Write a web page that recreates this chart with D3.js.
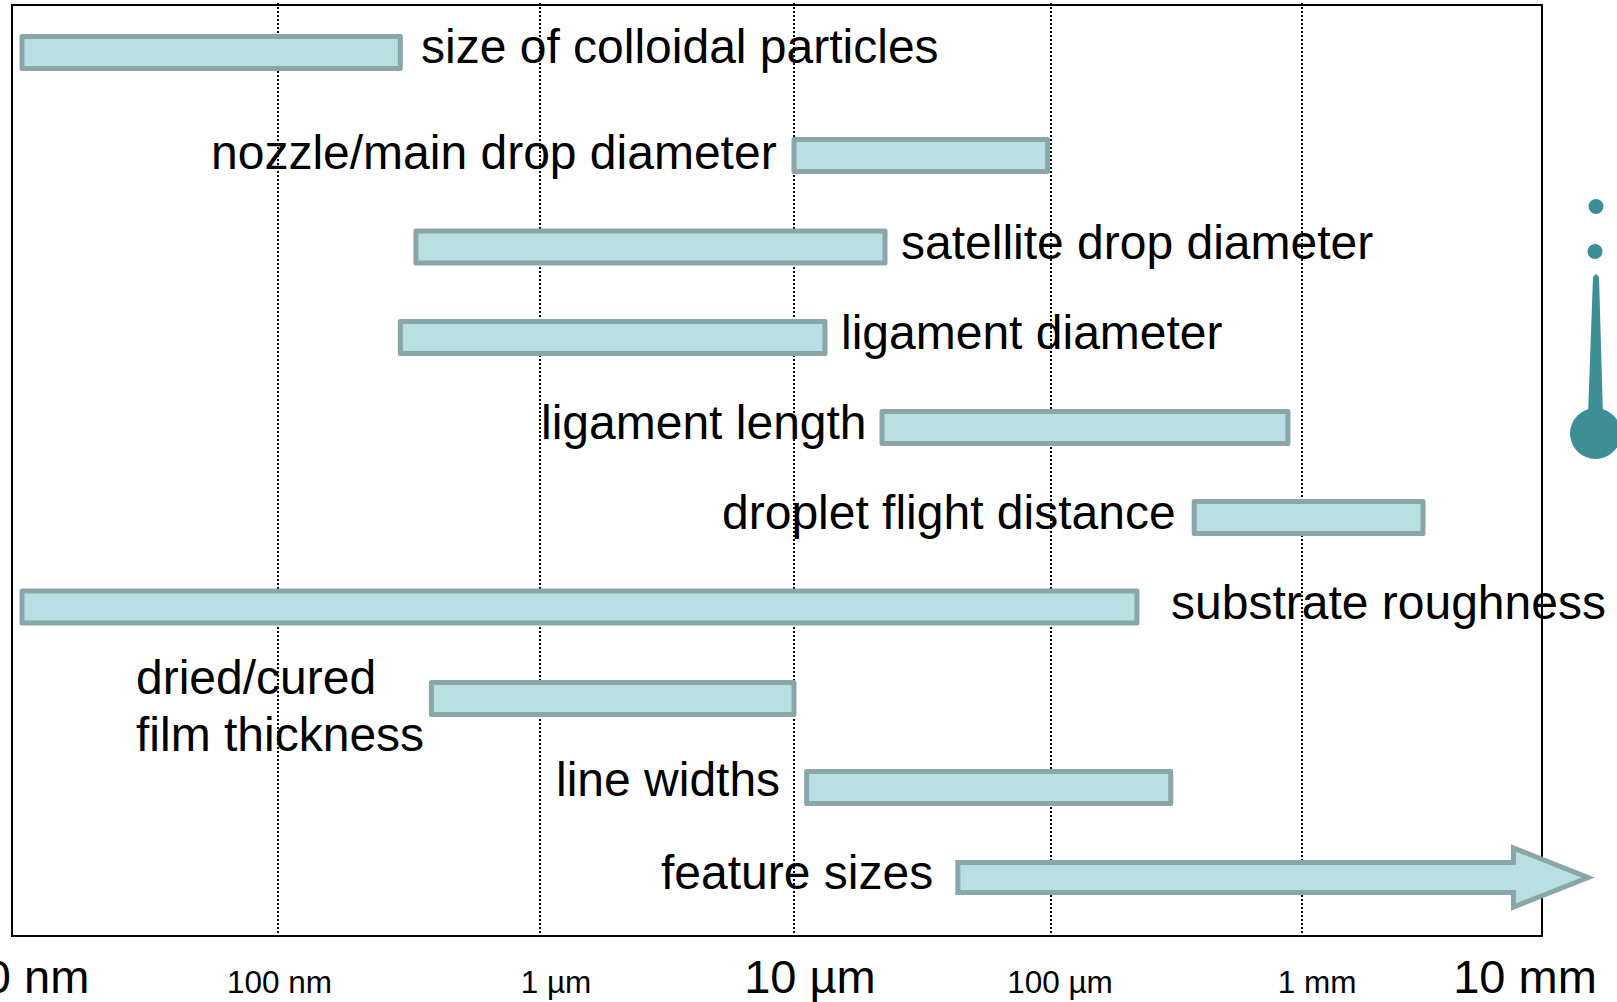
<!DOCTYPE html>
<html><head><meta charset="utf-8">
<script src="https://cdn.jsdelivr.net/npm/d3@7"></script>
<style>html,body{margin:0;padding:0;background:#fff;overflow:hidden}svg{display:block}text{font-family:"Liberation Sans",Arial,sans-serif;fill:#000}</style>
</head><body><svg id="c" width="1617" height="1002"></svg>
<script>
// --- data (lengths in nm) ---
const categories = ["size of colloidal particles","nozzle/main drop diameter","satellite drop diameter","ligament diameter","ligament length","droplet flight distance","substrate roughness","dried/cured film thickness","line widths","feature sizes"];
const rangeStart = [10, 10000, 336, 293, 22000, 372000, 10, 385, 11200, 43400];
const rangeEnd   = [293, 97000, 22600, 13200, 879000, 2970000, 220000, 10000, 300000, 6700000];
const arrowTip   = 13100000;
const tickValues = [10,100,1000,10000,100000,1000000,10000000];
const tickLabels = ["10 nm","100 nm","1 µm","10 µm","100 µm","1 mm","10 mm"];
const tickIsMajor = [true,false,false,true,false,false,true];

// --- layout ---
const W=1617,H=1002, frame={l:12,t:5,r:1542,b:936};
const x=d3.scaleLog().domain(tickValues).range([22,278,540,794,1051,1302,1558]);
const y=d3.scaleOrdinal().domain(categories).range([52.5,155.5,247,337.5,427.5,517.5,607,698.5,787.5,877.5]);
const barH=32;
const tickDx=[2,1.5,16,16,9,15,-33];
const labelPos={ // left edge, baselines
 "size of colloidal particles":[421,[63]],
 "nozzle/main drop diameter":[211,[168.5]],
 "satellite drop diameter":[901,[258.5]],
 "ligament diameter":[841,[348.5]],
 "ligament length":[541,[438.5]],
 "droplet flight distance":[722,[528.5]],
 "substrate roughness":[1171,[618.5]],
 "dried/cured film thickness":[136,[694,751]],
 "line widths":[556,[796]],
 "feature sizes":[661,[889]]};
const labelLines={"dried/cured film thickness":["dried/cured","film thickness"]};
const fill="#b8dfe2", edge="#8aa6a8", teal="#3e8e96";

const svg=d3.select("#c");
svg.append("rect").attr("width",W).attr("height",H).attr("fill","#fff");

// gridlines
svg.append("g").selectAll("line").data(tickValues.slice(1,-1)).join("line")
 .attr("x1",d=>x(d)).attr("x2",d=>x(d)).attr("y1",frame.t-2).attr("y2",frame.b+1)
 .attr("stroke","#000").attr("stroke-width",2).attr("stroke-dasharray","2 2");

// frame
svg.append("rect").attr("x",frame.l).attr("y",frame.t).attr("width",frame.r-frame.l).attr("height",frame.b-frame.t)
 .attr("fill","none").attr("stroke","#000").attr("stroke-width",2);

// bars
const rows=categories.map((c,i)=>({c,s:rangeStart[i],e:rangeEnd[i],i}));
svg.append("g").selectAll("path").data(rows).join("path")
 .attr("fill",fill).attr("stroke",edge).attr("stroke-width",5).attr("stroke-linejoin","round")
 .attr("d",d=>{
   const x0=x(d.s),x1=x(d.e),c=y(d.c),h=barH/2;
   if(d.c==="feature sizes"){
     const p=d3.path(),hh=29.5;
     p.moveTo(x0,c-h+1);p.lineTo(x1,c-h+1);p.lineTo(x1,c-hh);p.lineTo(x(arrowTip),c);p.lineTo(x1,c+hh);p.lineTo(x1,c+h-1);p.lineTo(x0,c+h-1);p.closePath();
     return p.toString();
   }
   const p=d3.path();p.rect(x0,c-h,x1-x0,barH);return p.toString();
 }).filter(d=>d.c==="feature sizes").attr("stroke-linejoin","miter");

// labels
const lab=svg.append("g").attr("font-size",48);
categories.forEach(c=>{
  const [lx,bs]=labelPos[c]; const lines=labelLines[c]||[c];
  lines.forEach((t,j)=>lab.append("text").attr("x",lx).attr("y",bs[j]).text(t));
});

// tick labels
svg.append("g").selectAll("text").data(tickValues).join("text")
 .attr("x",(d,i)=>x(d)+tickDx[i]).attr("y",993).attr("text-anchor","middle")
 .attr("font-size",(d,i)=>tickIsMajor[i]?47:31.5).text((d,i)=>tickLabels[i]);

// droplet pictogram
const drop=svg.append("g").attr("fill",teal);
[[1596,206.5,7.5],[1595,251.5,7.5],[1595.5,433.5,25.5]].forEach(([cx,cy,r])=>drop.append("circle").attr("cx",cx).attr("cy",cy).attr("r",r));
drop.append("path").attr("d",d3.line()([[1593,277],[1596,274],[1599,277],[1603,415],[1588,415]])+"Z");
</script></body></html>
